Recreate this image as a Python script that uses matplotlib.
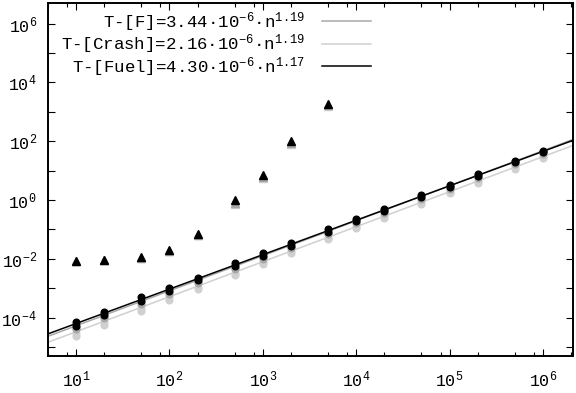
import numpy as np
import matplotlib
matplotlib.use("Agg")
import matplotlib.pyplot as plt
from matplotlib.ticker import LogLocator, FixedLocator, FuncFormatter, NullFormatter

plt.rcParams['font.family'] = ['Liberation Mono', 'DejaVu Sans Mono']
plt.rcParams['mathtext.fontset'] = 'custom'
plt.rcParams['mathtext.rm'] = 'Liberation Mono'
plt.rcParams['mathtext.default'] = 'regular'
plt.rcParams['axes.unicode_minus'] = False

# ---- data ----
n_all = [10, 20, 50, 100, 200, 500, 1000, 2000, 5000, 1e4, 2e4, 5e4, 1e5, 2e5, 5e5, 1e6]

fuel_a = [7.4e-5, 1.60e-4, 4.9e-4, 1.05e-3, 2.3e-3, 7.0e-3, 1.55e-2, 3.4e-2, 1.0e-1, 0.22, 0.50, 1.45, 3.3, 7.4, 21.5, 48]
fuel_b = [5.4e-5, 1.25e-4, 3.8e-4, 8.2e-4, 1.9e-3, 5.6e-3, 1.25e-2, 2.8e-2, 8.4e-2, 0.19, 0.44, 1.25, 2.8, 6.4, 19.0, 43]
f_a = [4.6e-5, 1.10e-4, 3.3e-4, 7.5e-4, 1.7e-3, 5.0e-3, 1.15e-2, 2.6e-2, 7.8e-2, 0.18, 0.41, 1.20, 2.7, 6.2, 18.5, 42]
f_b = [4.0e-5, 9.5e-5, 2.9e-4, 6.6e-4, 1.5e-3, 4.5e-3, 1.02e-2, 2.35e-2, 7.0e-2, 0.16, 0.37, 1.08, 2.45, 5.6, 16.8, 38]
crash_a = [3.1e-5, 7.2e-5, 2.15e-4, 4.9e-4, 1.12e-3, 3.4e-3, 7.8e-3, 1.8e-2, 5.3e-2, 0.122, 0.28, 0.83, 1.9, 4.3, 12.8, 29]
crash_b = [2.4e-5, 5.8e-5, 1.75e-4, 4.1e-4, 9.5e-4, 2.9e-3, 6.7e-3, 1.55e-2, 4.7e-2, 0.108, 0.25, 0.74, 1.7, 3.9, 11.6, 27]

n_tri = [10, 20, 50, 100, 200, 500, 1000, 2000, 5000]
tri_fuel = [8.7e-3, 9.3e-3, 1.15e-2, 1.95e-2, 7.0e-2, 0.98, 7.0, 100, 1780]
tri_f = [8.5e-3, 9.1e-3, 1.10e-2, 1.90e-2, 6.6e-2, 0.82, 6.2, 86, 1650]
tri_crash = [8.3e-3, 8.9e-3, 1.08e-2, 1.85e-2, 6.3e-2, 0.75, 5.7, 78, 1550]

fit_labels = ["T-[F]", "T-[Crash]", "T-[Fuel]"]
fit_coef = [3.44e-6, 2.16e-6, 4.30e-6]
fit_coef_text = ["3.44", "2.16", "4.30"]
fit_exp = [1.19, 1.19, 1.17]

grey = "#a8a8a8"
light = "#d0d0d0"
black = "#000000"
fit_colors = [grey, light, black]

fig = plt.figure(figsize=(5.76, 3.93), dpi=100)
ax = fig.add_axes([48/576, 1-356/393, (573-48)/576, (356-3)/393])
ax.set_xscale('log')
ax.set_yscale('log')
ax.set_xlim(5, 2.1e6)
ax.set_ylim(5e-6, 5e6)

# points
ms_c = 4.8
for ys, c in [(crash_a, light), (crash_b, light), (f_a, grey), (f_b, grey), (fuel_a, black), (fuel_b, black)]:
    ax.plot(n_all, ys, 'o', color=c, ms=ms_c, mec=c, zorder=3)
for ys, c in [(tri_crash, light), (tri_f, grey), (tri_fuel, black)]:
    ax.plot(n_tri, ys, '^', color=c, ms=5.5, mec=c, zorder=3)

# fit lines
xx = np.logspace(np.log10(5), np.log10(2.1e6), 200)
for lab, a, at, b, c in zip(fit_labels, fit_coef, fit_coef_text, fit_exp, fit_colors):
    label = lab + "=" + at + "·10$^{-6}$·n$^{" + f"{b:.2f}" + "}$"
    ax.plot(xx, a * xx ** b, '-', color=c, lw=1.1, label=label, zorder=2)

leg = ax.legend(loc='upper left', bbox_to_anchor=(0.012, 1.0), frameon=False,
                markerfirst=False, fontsize=12.5, handlelength=2.8,
                labelspacing=-0.06, handletextpad=1.0, borderaxespad=0.1,
                borderpad=0.3)

# ticks
ax.xaxis.set_major_locator(LogLocator(base=10, numticks=20))
ax.xaxis.set_minor_locator(LogLocator(base=10, subs=(2, 5, 8), numticks=20))
ax.xaxis.set_minor_formatter(NullFormatter())
ax.yaxis.set_major_locator(FixedLocator([10.0 ** k for k in range(-5, 7)]))
ax.yaxis.set_minor_locator(FixedLocator([]))

def yfmt(v, pos):
    k = int(round(np.log10(v)))
    if k % 2 == 0:
        return r"10$^{%d}$" % k
    return ""

def xfmt(v, pos):
    k = int(round(np.log10(v)))
    return r"10$^{%d}$" % k

ax.yaxis.set_major_formatter(FuncFormatter(yfmt))
ax.xaxis.set_major_formatter(FuncFormatter(xfmt))
ax.tick_params(which='both', direction='in', top=True, right=True, labelsize=12, colors='black')
ax.tick_params(which='major', length=5, width=0.8, pad=8)
ax.tick_params(axis='x', which='major', pad=10)
ax.tick_params(which='minor', length=3, width=0.8)
for s in ax.spines.values():
    s.set_linewidth(1.4)

fig.savefig("out.png", dpi=100)
